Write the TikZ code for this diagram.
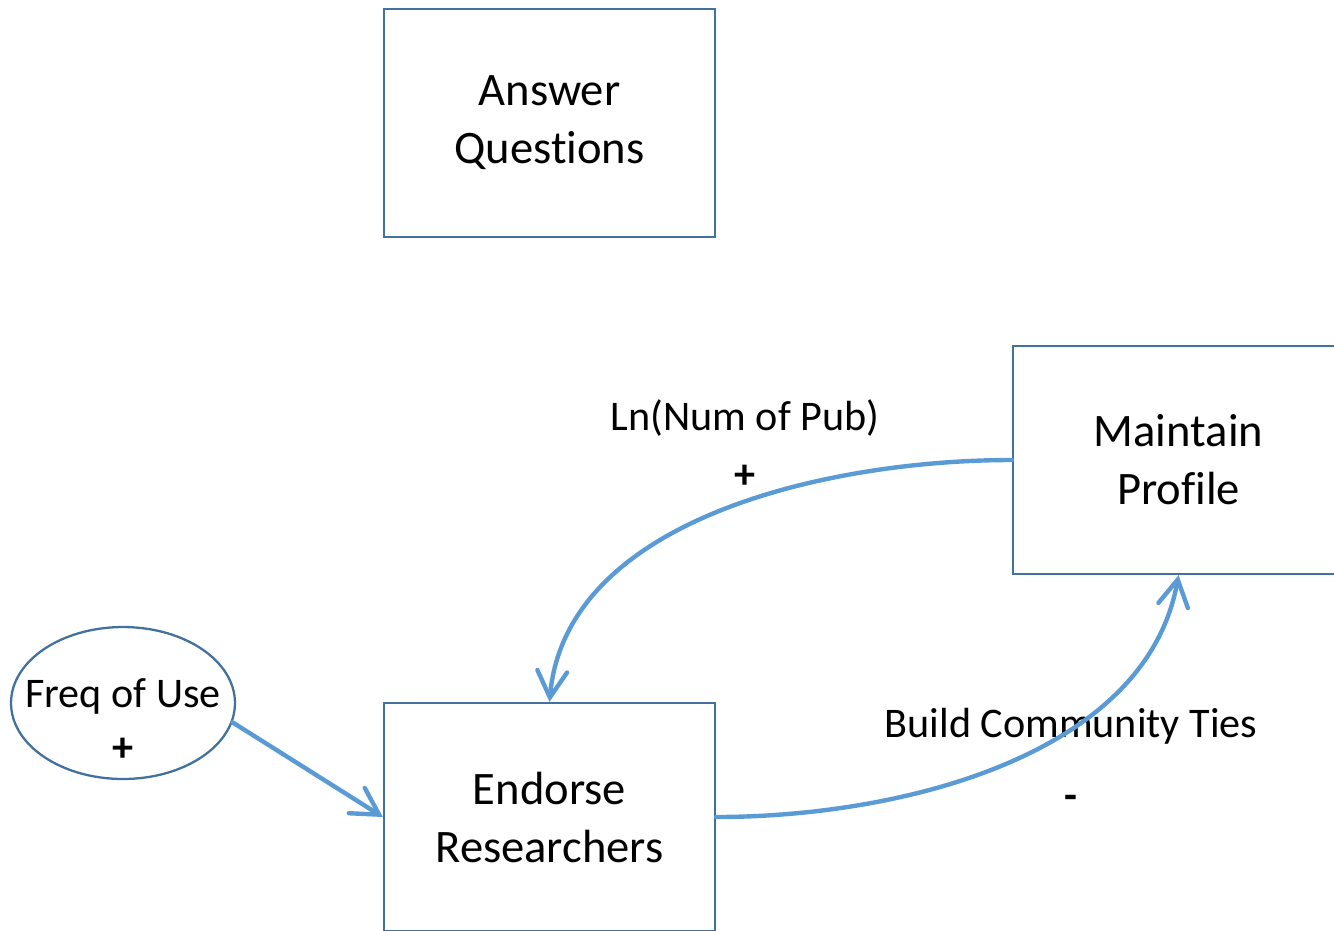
\documentclass[tikz,border=0pt]{standalone}
\usepackage{fontspec}
\setmainfont{Carlito}[Ligatures=NoCommon]
\usetikzlibrary{arrows.meta,shapes.geometric}
\definecolor{boxblue}{HTML}{41719C}
\definecolor{linkblue}{HTML}{5B9BD5}
\begin{document}
\begin{tikzpicture}
[x=0.02cm, y=-0.02cm,
 boxnode/.style={rectangle, draw=boxblue, line width=1.3pt, minimum width=6.62cm, minimum height=4.56cm, align=center, font=\fontsize{26.5}{33}\selectfont},
 ellnode/.style={ellipse, draw=boxblue, line width=1.3pt, minimum width=4.48cm, minimum height=3.04cm, inner sep=0pt},
 labelnode/.style={align=center, font=\fontsize{24}{31}\selectfont},
 linkarrow/.style={draw=linkblue, line width=2.5pt, line cap=round, -{Straight Barb[length=15pt, width=17pt, line cap=round]}}]
\useasboundingbox (0,0) rectangle (1334,930);
\node[boxnode]	(answer)	at (549.5,123)	{Answer\\Questions};
\node[boxnode]	(maintain)	at (1178.5,460)	{Maintain\\Profile};
\node[boxnode]	(endorse)	at (549.5,817)	{Endorse\\Researchers};
\node[ellnode]	(freq)	at (123,703)	{};
\node[labelnode]	(freqtext)	at (123,720)	{Freq of Use\\\textbf{+}};
\node[labelnode]	(pub)	at (745,418)	{Ln(Num of Pub)};
\node[labelnode]	(pubsign)	at (745,477)	{\textbf{+}};
\node[labelnode]	(ties)	at (1071,726)	{Build Community Ties};
\node[labelnode]	(tiessign)	at (1071,802)	{\textbf{-}};
\draw[linkarrow] (maintain.west) to [out=180, in=85, looseness=0.9] (endorse.north);
\draw[linkarrow] (endorse.east) to [out=0, in=-100, looseness=0.9] (maintain.south);
\draw[linkarrow] (freq.-10) -- (endorse.west);
\end{tikzpicture}
\end{document}
